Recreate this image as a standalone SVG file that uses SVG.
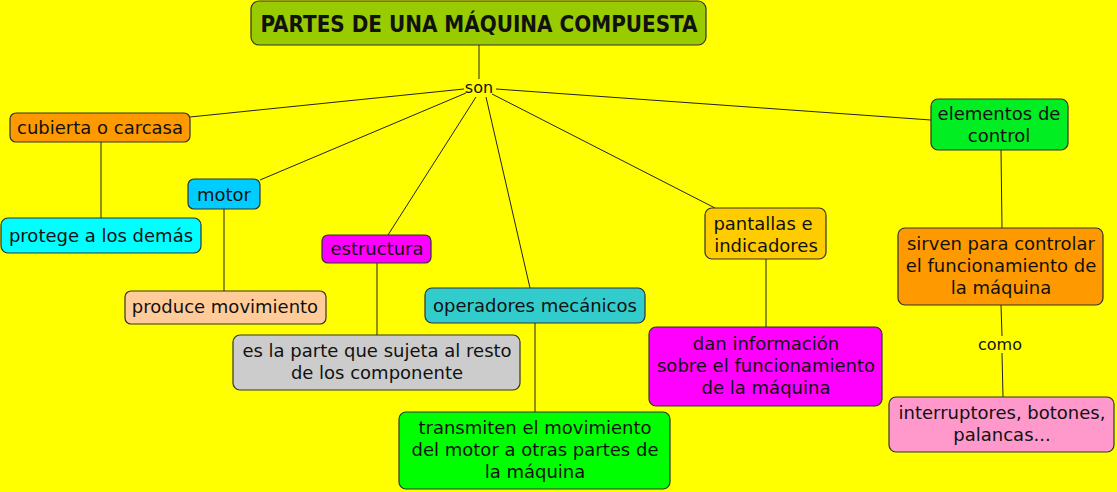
<svg xmlns="http://www.w3.org/2000/svg" width="1117" height="492" viewBox="0 0 1117 492">
<style>
.n{stroke:#333;stroke-width:1.2}
.t{font-family:"DejaVu Sans",Verdana,sans-serif;font-size:18px;fill:#111;text-anchor:middle}
.l{font-family:"DejaVu Sans",Verdana,sans-serif;font-size:16px;fill:#111;text-anchor:middle}
.c{stroke:#222;stroke-width:1;fill:none}
</style>
<rect x="0" y="0" width="1117" height="492" fill="#ffff00"/>
<g id="connectors">
<path class="c" d="M479 45V79"/>
<path class="c" d="M464 89L190 117"/>
<path class="c" d="M466 93L260 180"/>
<path class="c" d="M476 97L388 235"/>
<path class="c" d="M486 97L530 288"/>
<path class="c" d="M492 94L715 208"/>
<path class="c" d="M496 89L931 120"/>
<path class="c" d="M101 142V218"/>
<path class="c" d="M224 209V291"/>
<path class="c" d="M377 263V335"/>
<path class="c" d="M535 323V412"/>
<path class="c" d="M766 259V327"/>
<path class="c" d="M1001 150L1002 228"/>
<path class="c" d="M1001 305L1002 336"/>
<path class="c" d="M1002 353L1003 397"/>
<text class="l" x="479" y="93">son</text>
<text class="l" x="1000" y="350">como</text>
</g>
<g id="title">
<rect class="n" x="251" y="1" width="455" height="44" rx="8" fill="#99cc00"/>
<text x="479" y="32" font-family="'DejaVu Sans Condensed','DejaVu Sans',sans-serif" font-weight="bold" font-size="23" fill="#111" text-anchor="middle" textLength="437" lengthAdjust="spacingAndGlyphs">PARTES DE UNA MÁQUINA COMPUESTA</text>
</g>
<g id="cubierta">
<rect class="n" x="10" y="113" width="180" height="29" rx="6" fill="#ff9900"/>
<text class="t" x="100" y="134">cubierta o carcasa</text>
</g>
<g id="protege">
<rect class="n" x="1" y="218" width="200" height="35" rx="7" fill="#00ffff"/>
<text class="t" x="101" y="242">protege a los demás</text>
</g>
<g id="motor">
<rect class="n" x="188" y="179" width="72" height="30" rx="6" fill="#00ccff"/>
<text class="t" x="224" y="201">motor</text>
</g>
<g id="produce">
<rect class="n" x="125" y="291" width="201" height="33" rx="6" fill="#ffcc99"/>
<text class="t" x="225" y="313">produce movimiento</text>
</g>
<g id="estructura">
<rect class="n" x="322" y="235" width="109" height="28" rx="6" fill="#ff00ff"/>
<text class="t" x="377" y="255">estructura</text>
</g>
<g id="es-la-parte">
<rect class="n" x="233" y="335" width="287" height="55" rx="7" fill="#cccccc"/>
<text class="t" x="377" y="357">es la parte que sujeta al resto</text>
<text class="t" x="377" y="379">de los componente</text>
</g>
<g id="operadores">
<rect class="n" x="425" y="288" width="220" height="35" rx="7" fill="#33cccc"/>
<text class="t" x="535" y="312">operadores mecánicos</text>
</g>
<g id="transmiten">
<rect class="n" x="399" y="412" width="271" height="77" rx="7" fill="#00ff00"/>
<text class="t" x="535" y="434">transmiten el movimiento</text>
<text class="t" x="535" y="456">del motor a otras partes de</text>
<text class="t" x="535" y="478">la máquina</text>
</g>
<g id="pantallas">
<rect class="n" x="705" y="208" width="121" height="51" rx="7" fill="#ffcc00"/>
<text class="t" x="763" y="230">pantallas e</text>
<text class="t" x="766" y="252">indicadores</text>
</g>
<g id="dan">
<rect class="n" x="649" y="327" width="233" height="79" rx="7" fill="#ff00ff"/>
<text class="t" x="766" y="350">dan información</text>
<text class="t" x="766" y="372">sobre el funcionamiento</text>
<text class="t" x="766" y="394">de la máquina</text>
</g>
<g id="elementos">
<rect class="n" x="931" y="99" width="137" height="51" rx="7" fill="#00ee22"/>
<text class="t" x="999" y="120">elementos de</text>
<text class="t" x="999" y="142">control</text>
</g>
<g id="sirven">
<rect class="n" x="898" y="228" width="205" height="77" rx="7" fill="#ff9900"/>
<text class="t" x="1001" y="250">sirven para controlar</text>
<text class="t" x="1001" y="272">el funcionamiento de</text>
<text class="t" x="1001" y="294">la máquina</text>
</g>
<g id="interruptores">
<rect class="n" x="889" y="397" width="225" height="55" rx="7" fill="#ff99cc"/>
<text class="t" x="1002" y="419">interruptores, botones,</text>
<text class="t" x="1002" y="441">palancas...</text>
</g>
</svg>
